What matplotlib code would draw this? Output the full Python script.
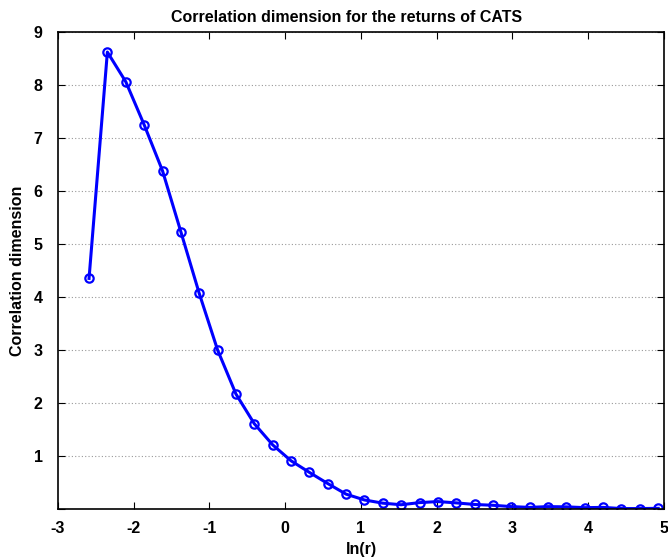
import numpy as np
import matplotlib
matplotlib.use("Agg")
import matplotlib.pyplot as plt

plt.rcParams["font.family"] = ["Liberation Sans", "DejaVu Sans"]
plt.rcParams["font.weight"] = "bold"
plt.rcParams["axes.unicode_minus"] = False

# ln(r) grid and estimated correlation dimension
ln_r = [-2.59, -2.348, -2.105, -1.863, -1.62, -1.378, -1.136, -0.893,
        -0.651, -0.409, -0.166, 0.076, 0.319, 0.561, 0.803, 1.046,
        1.288, 1.53, 1.773, 2.015, 2.258, 2.5, 2.742, 2.985,
        3.227, 3.47, 3.712, 3.954, 4.197, 4.439, 4.682, 4.924]
corr_dim = [4.35, 8.62, 8.06, 7.25, 6.38, 5.23, 4.07, 3.0,
            2.17, 1.61, 1.21, 0.91, 0.69, 0.48, 0.28, 0.17,
            0.11, 0.08, 0.12, 0.14, 0.115, 0.085, 0.07, 0.045,
            0.03, 0.045, 0.04, 0.025, 0.03, 0.008, 0.008, 0.012]

fig = plt.figure(figsize=(6.68, 5.60), dpi=100)
ax = fig.add_axes([0.0868, 0.0911, 0.9072, 0.8519])

ax.plot(ln_r, corr_dim, color="#0000ff", lw=2.2, marker="o", ms=6,
        mfc="none", mec="#0000ff", mew=1.6)

ax.set_xlim(-3, 5)
ax.set_ylim(0, 9)
ax.set_xticks(np.arange(-3, 6, 1))
ax.set_yticks(np.arange(0, 10, 1))
ax.set_yticklabels(["", "1", "2", "3", "4", "5", "6", "7", "8", "9"])
ax.yaxis.grid(True, linestyle=(0, (1, 2)), color="#999999", lw=0.8)
ax.tick_params(direction="in", top=True, right=True, length=5,
               labelsize=11.5, width=0.8)
ax.tick_params(axis="x", pad=9)
ax.tick_params(axis="y", pad=11)
for lbl in ax.get_xticklabels() + ax.get_yticklabels():
    lbl.set_fontweight("bold")
for sp in ax.spines.values():
    sp.set_linewidth(1.2)

ax.set_title("Correlation dimension for the returns of CATS",
             fontsize=11.5, fontweight="bold", pad=7, x=0.476)
ax.set_xlabel("ln(r)", fontsize=11.5, fontweight="bold", labelpad=4)
ax.set_ylabel("Correlation dimension", fontsize=11.5, fontweight="bold",
              labelpad=6)

fig.savefig("out.png", dpi=100)
